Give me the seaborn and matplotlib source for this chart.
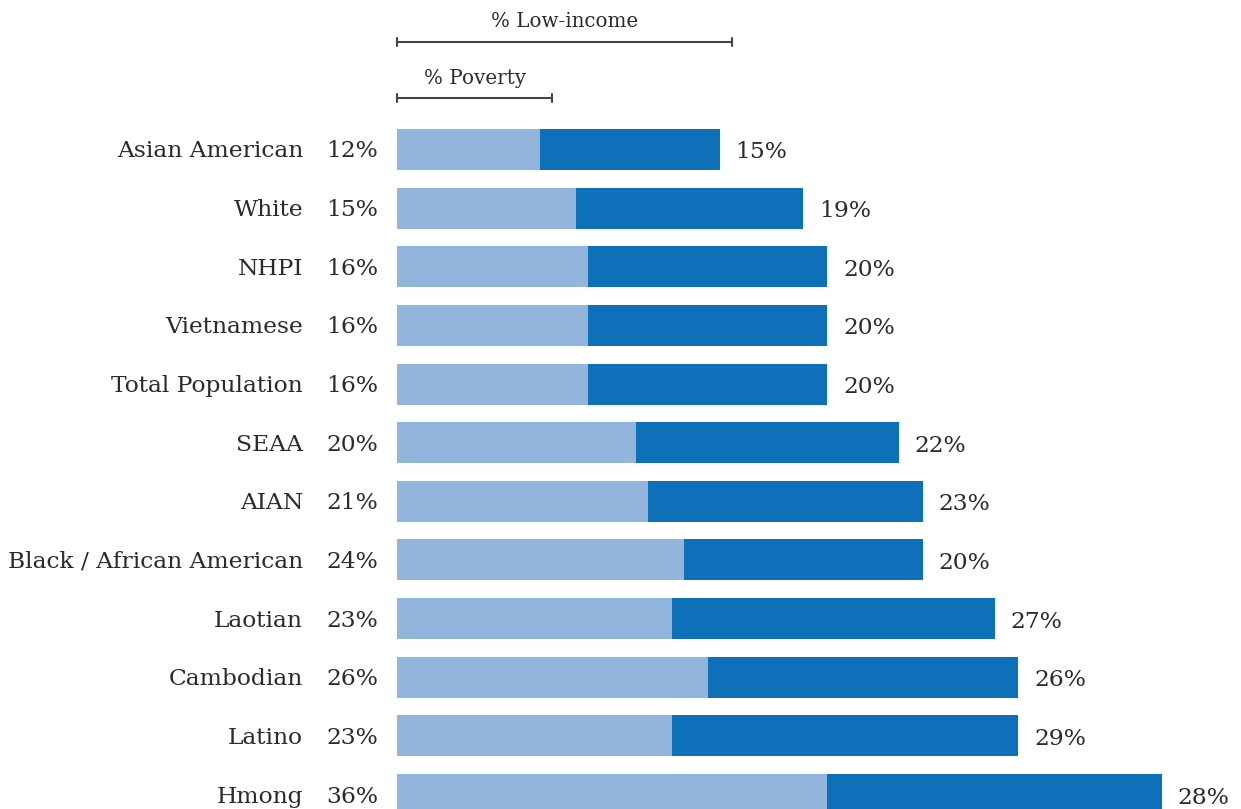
import numpy as np
import pandas as pd
import matplotlib
matplotlib.use("Agg")
import matplotlib.pyplot as plt
import seaborn as sns

groups = ["Asian American", "White", "NHPI", "Vietnamese", "Total Population", "SEAA",
          "AIAN", "Black / African American", "Laotian", "Cambodian", "Latino", "Hmong"]
poverty = [12, 15, 16, 16, 16, 20, 21, 24, 23, 26, 23, 36]
low_income = [15, 19, 20, 20, 20, 22, 23, 20, 27, 26, 29, 28]

LIGHT = "#93b4db"
DARK = "#0e70b8"
TEXT = "#2b2b2b"

df = pd.DataFrame({"group": groups, "poverty": poverty, "low_income": low_income})
df["total"] = df["poverty"] + df["low_income"]

sns.set_style("white")
plt.rcParams["font.family"] = ["DejaVu Serif"]

fig = plt.figure(figsize=(12.41, 8.09), dpi=100)
ax = fig.add_axes([0, 0, 1, 1])

sns.barplot(data=df, x="total", y="group", color=DARK, width=0.7, saturation=1,
            linewidth=0, ax=ax, orient="h")
sns.barplot(data=df, x="poverty", y="group", color=LIGHT, width=0.7, saturation=1,
            linewidth=0, ax=ax, orient="h")

# pixel scale: 0% at x=397, ~11.95 px per %
s = 11.95
ax.set_xlim(-397 / s, (1241 - 397) / s)
ax.set_ylim(11.247, -2.549)
ax.axis("off")

fs = 16.8
for i, row in df.iterrows():
    ax.annotate(row["group"], (0, i), xytext=(-94, -2), textcoords="offset pixels",
                ha="right", va="center", fontsize=fs, color=TEXT)
    ax.annotate(f"{row['poverty']}%", (0, i), xytext=(-19, -2), textcoords="offset pixels",
                ha="right", va="center", fontsize=fs, color=TEXT)
    ax.annotate(f"{row['low_income']}%", (row["total"], i), xytext=(16, -3), textcoords="offset pixels",
                ha="left", va="center", fontsize=fs, color=TEXT)

# legend brackets
def bracket(x1, y, label, ty):
    ax.plot([0, x1], [y, y], color="#444444", lw=1.5, solid_capstyle="butt")
    for xx in (0, x1):
        ax.plot([xx, xx], [y - 0.07, y + 0.07], color="#444444", lw=1.5)
    ax.text(x1 / 2, ty, label, ha="center", va="center", fontsize=14.3, color=TEXT)

bracket(28, -1.834, "% Low-income", -2.19)
bracket(13, -0.879, "% Poverty", -1.21)

fig.savefig("out.png", dpi=100)
